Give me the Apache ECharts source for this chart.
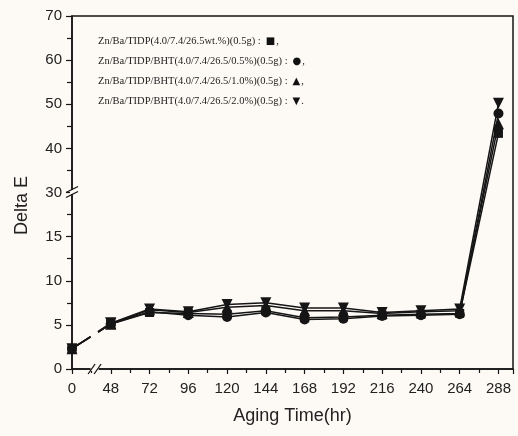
<!DOCTYPE html>
<html>
<head>
<meta charset="utf-8">
<script src="https://cdn.jsdelivr.net/npm/echarts@6/dist/echarts.min.js"></script>
<style>
  html, body { margin: 0; padding: 0; background: #fdfaf6; }
  #chart { width: 518px; height: 436px; }
</style>
</head>
<body>
<div id="chart"></div>
<script>
// Aging time (hr) — x axis is broken between 0 and 48
const hours = [0, 48, 72, 96, 120, 144, 168, 192, 216, 240, 264, 288];
// Y tick labels (axis broken between 15/20 and 30)
const yTickLabels = [0, 5, 10, 15, 30, 40, 50, 60, 70];

const seriesNames = [
  'Zn/Ba/TIDP(4.0/7.4/26.5wt.%)(0.5g)',
  'Zn/Ba/TIDP/BHT(4.0/7.4/26.5/0.5%)(0.5g)',
  'Zn/Ba/TIDP/BHT(4.0/7.4/26.5/1.0%)(0.5g)',
  'Zn/Ba/TIDP/BHT(4.0/7.4/26.5/2.0%)(0.5g)'
];
const legendGlyphs = ['■', '●', '▲', '▼'];
const legendEnds = [',', ',', ',', '.'];
const symbols = ['rect', 'circle', 'triangle', 'path://M0,0L10,0L5,10Z'];
const symbolSizes = [9, 10, 11, 11];

// Delta E values
const deltaTIDP   = [2.3, 5.1, 6.4, 6.3, 6.2, 6.6, 5.8, 5.9, 6.1, 6.2, 6.3, 43.4];
const deltaBHT05  = [2.3, 5.1, 6.5, 6.1, 5.9, 6.4, 5.6, 5.7, 6.0, 6.1, 6.2, 47.9];
const deltaBHT10  = [2.3, 5.1, 6.7, 6.4, 7.0, 7.2, 6.6, 6.6, 6.3, 6.5, 6.6, 45.6];
const deltaBHT20  = [2.3, 5.2, 6.8, 6.5, 7.3, 7.5, 6.9, 6.9, 6.4, 6.6, 6.8, 50.2];
const allSeries = [deltaTIDP, deltaBHT05, deltaBHT10, deltaBHT20];

// Broken-axis transforms (real value -> axis position)
const fx = h => (h < 48 ? h : h - 24);
const fy = v => (v <= 20 ? v : 20 + (v - 30) / 2);
const invY = d => (d <= 15 ? d : 30 + (d - 20) * 2);

const BG = '#fdfaf6';
const INK = '#151515';

const series = [];
allSeries.forEach((vals, i) => {
  series.push({
    name: seriesNames[i],
    type: 'line',
    data: hours.map((h, k) => [fx(h), fy(vals[k])]).slice(1),
    symbol: symbols[i],
    symbolSize: symbolSizes[i],
    itemStyle: { color: INK },
    lineStyle: { color: INK, width: 1.5 },
    z: 3 + i
  });
  series.push({
    name: seriesNames[i] + ' lead',
    type: 'line',
    data: hours.slice(0, 2).map((h, k) => [fx(h), fy(vals[k])]),
    symbol: symbols[i],
    symbolSize: symbolSizes[i],
    itemStyle: { color: INK },
    lineStyle: { color: INK, width: 1.5, type: [22, 9] },
    z: 3 + i
  });
});

const chart = echarts.init(document.getElementById('chart'), null, { renderer: 'canvas' });

const option = {
  backgroundColor: BG,
  animation: false,
  grid: {
    left: 72, right: 5, top: 16, bottom: 67,
    show: true, borderColor: INK, borderWidth: 1.5, backgroundColor: 'transparent'
  },
  legend: {
    data: seriesNames,
    orient: 'vertical',
    left: 88, top: 29,
    icon: 'none',
    itemWidth: 0, itemHeight: 14, itemGap: 7.7,
    selectedMode: false,
    formatter: name => {
      const i = seriesNames.indexOf(name);
      return name + ' :{g|' + legendGlyphs[i] + '}' + legendEnds[i];
    },
    textStyle: {
      fontFamily: 'Liberation Serif', fontSize: 10.5, color: '#222',
      rich: { g: { fontFamily: 'DejaVu Sans', fontSize: 10, color: '#111', padding: [0, 1, 0, 5] } }
    }
  },
  xAxis: {
    type: 'value',
    min: 0, max: 273, interval: 24,
    name: 'Aging Time(hr)',
    nameLocation: 'middle', nameGap: 38,
    nameTextStyle: { fontFamily: 'Liberation Sans', fontSize: 18, color: '#222' },
    axisLine: { show: true, lineStyle: { color: INK, width: 1.5 } },
    axisTick: { show: true, length: 5, lineStyle: { color: INK, width: 1.2 } },
    minorTick: { show: true, splitNumber: 2, length: 4, lineStyle: { color: INK, width: 1.2 } },
    splitLine: { show: false },
    axisLabel: {
      margin: 12, fontFamily: 'Liberation Sans', fontSize: 15, color: '#222',
      showMaxLabel: false,
      formatter: d => {
        if (d === 0) return '0';
        if (d % 24 !== 0 || d < 24) return '';
        return String(d + 24);
      }
    }
  },
  yAxis: {
    type: 'value',
    min: 0, max: 40, interval: 5,
    name: 'Delta E',
    nameLocation: 'middle', nameGap: 41, nameRotate: 90,
    nameTextStyle: { fontFamily: 'Liberation Sans', fontSize: 18, color: '#222', padding: [0, 26, 0, 0] },
    axisLine: { show: true, lineStyle: { color: INK, width: 1.5 } },
    axisTick: { show: true, length: 6, lineStyle: { color: INK, width: 1.2 } },
    minorTick: { show: true, splitNumber: 2, length: 5, lineStyle: { color: INK, width: 1.2 } },
    splitLine: { show: false },
    axisLabel: {
      margin: 10, fontFamily: 'Liberation Sans', fontSize: 15, color: '#222',
      formatter: d => {
        const v = invY(d);
        return yTickLabels.indexOf(v) >= 0 ? String(v) : '';
      }
    }
  },
  series: series
};

chart.setOption(option);

// Break marks, placed through the axes' own scales
const yb = chart.convertToPixel({ gridIndex: 0 }, [0, fy(20)]);
const xb = chart.convertToPixel({ gridIndex: 0 }, [14, 0]);
const topRight = chart.convertToPixel({ gridIndex: 0 }, [fx(276), fy(20)]);
const slash = (cx, cy, dx, dy) => ({
  type: 'line', z: 100,
  shape: { x1: cx - dx, y1: cy + dy, x2: cx + dx, y2: cy - dy },
  style: { stroke: INK, lineWidth: 1.3 }
});
chart.setOption({
  graphic: [
    { type: 'rect', z: 99, shape: { x: yb[0] - 2, y: yb[1] - 2.5, width: topRight[0] - yb[0] - 10, height: 4 }, style: { fill: BG } },
    slash(yb[0], yb[1] - 3, 6, 3),
    slash(yb[0], yb[1] + 2, 6, 3),
    { type: 'rect', z: 99, shape: { x: xb[0] - 4, y: xb[1] - 2, width: 8, height: 4 }, style: { fill: BG } },
    slash(xb[0] - 3, xb[1], 3.5, 5),
    slash(xb[0] + 3, xb[1], 3.5, 5)
  ]
});
</script>
</body>
</html>
